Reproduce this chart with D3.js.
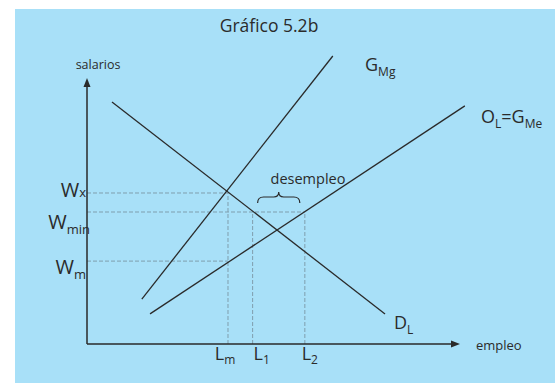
<!DOCTYPE html>
<html>
<head>
<meta charset="utf-8">
<script src="https://cdn.jsdelivr.net/npm/d3@7"></script>
<style>
  body { margin: 0; background: #fff; }
  text { font-family: "Open Sans", "Noto Sans", sans-serif; fill: #2b2b2b; }
</style>
</head>
<body>
<svg id="chart" width="555" height="383"></svg>
<script>
// curves: [x0, y0, x1, y1] in chart units (0-100 on both axes)
let curveNames = ['G_Mg', 'O_L', 'D_L']
let curveStart = [[14.7, 17.0], [16.9, 11.4], [6.7, 91.7]]
let curveEnd = [[65.9, 109.1], [101.3, 90.2], [79.9, 11.4]]

// wage levels and employment levels
let wageNames = ['Wx', 'Wmin', 'Wm']
let wageValues = [57.2, 50.0, 31.4]
let wageReach = [37.8, 58.4, 37.8]

let labourNames = ['Lm', 'L1', 'L2']
let labourValues = [37.8, 44.4, 58.4]
let labourReach = [57.2, 50.0, 50.0]

let svg = d3.select('#chart')

// BACKGROUND
svg.append('rect')
    .attr('x', 15).attr('y', 9)
    .attr('width', 540).attr('height', 374)
    .attr('fill', '#a8e0f8')

let x = d3.scaleLinear().domain([0, 100]).range([87, 460])
let y = d3.scaleLinear().domain([0, 100]).range([344, 80])

let ink = '#2a2a2a'
let dash = '#7f9eae'

// TITLE
svg.append('text')
    .attr('x', 269).attr('y', 32)
    .attr('text-anchor', 'middle')
    .attr('font-size', 17.5)
    .text('Gráfico 5.2b')

// DASHED GUIDES
svg.selectAll('.hguide')
    .data(wageValues)
    .join('line')
        .attr('x1', x(0))
        .attr('x2', (d, i) => x(wageReach[i]))
        .attr('y1', d => y(d))
        .attr('y2', d => y(d))
        .attr('stroke', dash)
        .attr('stroke-width', 1)
        .attr('stroke-dasharray', '4,2')

svg.selectAll('.vguide')
    .data(labourValues)
    .join('line')
        .attr('x1', d => x(d))
        .attr('x2', d => x(d))
        .attr('y1', y(0))
        .attr('y2', (d, i) => y(labourReach[i]))
        .attr('stroke', dash)
        .attr('stroke-width', 1)
        .attr('stroke-dasharray', '4,2')

// CURVES
svg.selectAll('.curve')
    .data(curveNames)
    .join('line')
        .attr('x1', (d, i) => x(curveStart[i][0]))
        .attr('y1', (d, i) => y(curveStart[i][1]))
        .attr('x2', (d, i) => x(curveEnd[i][0]))
        .attr('y2', (d, i) => y(curveEnd[i][1]))
        .attr('stroke', ink)
        .attr('stroke-width', 1.3)

// AXES
svg.append('line')
    .attr('x1', x(0)).attr('y1', y(0))
    .attr('x2', x(0)).attr('y2', y(100) + 4)
    .attr('stroke', ink).attr('stroke-width', 1.5)
svg.append('line')
    .attr('x1', x(0)).attr('y1', y(0))
    .attr('x2', x(100) - 4).attr('y2', y(0))
    .attr('stroke', ink).attr('stroke-width', 1.5)
svg.append('path')
    .attr('d', `M${x(0)},${y(100) - 2} l-3.5,9 l7,0 z`)
    .attr('fill', ink)
svg.append('path')
    .attr('d', `M${x(100)},${y(0)} l-9,-3.5 l0,7 z`)
    .attr('fill', ink)

svg.append('text')
    .attr('x', 98).attr('y', 69)
    .attr('text-anchor', 'middle')
    .attr('font-size', 12.5)
    .text('salarios')
svg.append('text')
    .attr('x', 476).attr('y', 350)
    .attr('font-size', 13)
    .text('empleo')

// WAGE LABELS
let wLabel = function(xPos, yPos, sub, shift) {
    let t = svg.append('text')
        .attr('x', xPos).attr('y', yPos)
        .attr('text-anchor', 'end')
    t.append('tspan').attr('font-size', 20).text('W')
    t.append('tspan').attr('font-size', 13).attr('dy', shift).text(sub)
}
wLabel(86, y(wageValues[0]) + 4, 'x', 0)
wLabel(90, y(wageValues[1]) + 17, 'min', 5)
wLabel(86, y(wageValues[2]) + 13, 'm', 5)

// LABOUR LABELS
let lSubs = ['m', '1', '2']
let lShift = [-3, 9, 5]
labourValues.forEach(function(v, i) {
    let t = svg.append('text')
        .attr('x', x(v) + lShift[i]).attr('y', 360)
        .attr('text-anchor', 'middle')
    t.append('tspan').attr('font-size', 18).text('L')
    t.append('tspan').attr('font-size', 12).attr('dy', 4).text(lSubs[i])
})

// CURVE LABELS
let sub = function(xPos, yPos, parts) {
    let t = svg.append('text').attr('x', xPos).attr('y', yPos)
    parts.forEach(function(p) {
        t.append('tspan')
            .attr('font-size', p[2])
            .attr('dy', p[1])
            .text(p[0])
    })
}
sub(365, 71, [['G', 0, 18], ['Mg', 5, 12]])
sub(481, 123, [['O', 0, 18], ['L', 5, 12], ['=G', -5, 18], ['Me', 5, 12]])
sub(394, 329, [['D', 0, 18], ['L', 5, 12]])

// DESEMPLEO BRACE
let bx0 = x(labourValues[1]) + 5
let bx1 = x(labourValues[2]) - 5
let bm = (bx0 + bx1) / 2
let by = 197
svg.append('path')
    .attr('d', `M${bx0},${by + 6} q0,-6 6,-6 L${bm - 5},${by} q5,0 5,-5 q0,5 5,5 L${bx1 - 6},${by} q6,0 6,6`)
    .attr('fill', 'none')
    .attr('stroke', ink)
    .attr('stroke-width', 1.2)
svg.append('text')
    .attr('x', 308).attr('y', 184)
    .attr('text-anchor', 'middle')
    .attr('font-size', 14.5)
    .text('desempleo')
</script>
</body>
</html>
